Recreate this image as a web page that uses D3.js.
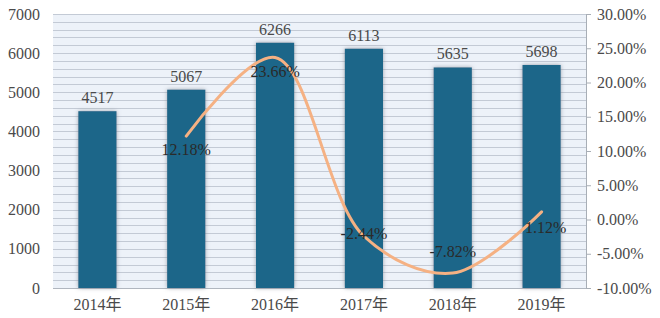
<!DOCTYPE html>
<html>
<head>
<meta charset="utf-8">
<script src="https://cdn.jsdelivr.net/npm/d3@7"></script>
<style>
  body { margin: 0; background: #fff; }
  svg { display: block; }
</style>
</head>
<body>
<svg id="svg" width="660" height="318"></svg>
<script>
// data
const years = ["2014年", "2015年", "2016年", "2017年", "2018年", "2019年"];
const output = [4517, 5067, 6266, 6113, 5635, 5698];
const growthYears = ["2015年", "2016年", "2017年", "2018年", "2019年"];
const growth = [12.18, 23.66, -2.44, -7.82, 1.12];
const leftTicks = [0, 1000, 2000, 3000, 4000, 5000, 6000, 7000];
const rightTicks = [-10, -5, 0, 5, 10, 15, 20, 25, 30];

// label nudges for the growth labels (px, relative to the point)
const growthLabelDy = [13, 14, -3, -22, 16];

const font = "'Liberation Serif', 'Noto Sans CJK SC', serif";
const fontSize = 16;
const textColor = "#4a4a4a";
const barColor = "#1a6689";
const lineColor = "#f5b183";

const plotLeft = 53, plotRight = 586, plotTop = 14, plotBottom = 288;

const svg = d3.select("#svg");

const x = d3.scaleBand().domain(years).range([plotLeft, plotRight]).paddingInner(0.57).paddingOuter(0.285);
const y = d3.scaleLinear().domain([0, 7000]).range([plotBottom, plotTop]);
const y2 = d3.scaleLinear().domain([-10, 30]).range([plotBottom, plotTop]);

// shadow for bars
const defs = svg.append("defs");
const f = defs.append("filter").attr("id", "shadow").attr("x", "-30%").attr("y", "-10%")
    .attr("width", "160%").attr("height", "120%");
f.append("feDropShadow").attr("dx", 0).attr("dy", 0).attr("stdDeviation", 2)
    .attr("flood-color", "#7d8590").attr("flood-opacity", 0.7);

// plot background
svg.append("rect")
    .attr("x", plotLeft).attr("y", plotTop)
    .attr("width", plotRight - plotLeft).attr("height", plotBottom - plotTop)
    .attr("fill", "#edf2f9");

// dense horizontal grid, every 200
svg.append("g")
    .selectAll("line")
    .data(d3.range(200, 7001, 200))
    .join("line")
    .attr("x1", plotLeft).attr("x2", plotRight)
    .attr("y1", d => Math.round(y(d)) + 0.5)
    .attr("y2", d => Math.round(y(d)) + 0.5)
    .attr("stroke", "#c3cad5")
    .attr("stroke-width", 1);

// bottom axis line
svg.append("line")
    .attr("x1", plotLeft).attr("x2", plotRight)
    .attr("y1", plotBottom + 0.5).attr("y2", plotBottom + 0.5)
    .attr("stroke", "#b0b6bf");

// bars
svg.append("g")
    .selectAll("rect")
    .data(years)
    .join("rect")
    .attr("x", d => x(d))
    .attr("y", (d, i) => y(output[i]))
    .attr("width", x.bandwidth())
    .attr("height", (d, i) => plotBottom - y(output[i]))
    .attr("fill", barColor)
    .attr("filter", "url(#shadow)");

// bar value labels
svg.append("g")
    .selectAll("text")
    .data(years)
    .join("text")
    .attr("x", d => x(d) + x.bandwidth() / 2)
    .attr("y", (d, i) => y(output[i]) - 8)
    .attr("text-anchor", "middle")
    .attr("font-family", font)
    .attr("font-size", fontSize)
    .attr("fill", textColor)
    .text((d, i) => output[i]);

// left axis
const yAxis = svg.append("g")
    .attr("transform", `translate(${plotLeft},0)`)
    .call(d3.axisLeft(y).tickValues(leftTicks).tickSize(0).tickPadding(13).tickFormat(d3.format("d")));
yAxis.select(".domain").remove();
yAxis.selectAll("text")
    .attr("font-family", font).attr("font-size", fontSize).attr("fill", textColor);

// right axis
const y2Axis = svg.append("g")
    .attr("transform", `translate(${plotRight},0)`)
    .call(d3.axisRight(y2).tickValues(rightTicks).tickSize(5).tickPadding(6)
        .tickFormat(d => d.toFixed(2) + "%"));
y2Axis.select(".domain").attr("stroke", "#a8aeb6");
y2Axis.selectAll(".tick line").attr("stroke", "#a8aeb6");
y2Axis.selectAll("text")
    .attr("font-family", font).attr("font-size", fontSize).attr("fill", textColor);

// category labels
const xAxis = svg.append("g")
    .attr("transform", `translate(0,${plotBottom})`)
    .call(d3.axisBottom(x).tickSize(0).tickPadding(11));
xAxis.select(".domain").remove();
xAxis.selectAll("text")
    .attr("font-family", font).attr("font-size", fontSize).attr("fill", textColor);

// growth line
const cx = d => x(d) + x.bandwidth() / 2;
const line = d3.line()
    .x(d => cx(d))
    .y((d, i) => y2(growth[i]))
    .curve(d3.curveCatmullRom.alpha(0.5));

svg.append("path")
    .datum(growthYears)
    .attr("d", line)
    .attr("fill", "none")
    .attr("stroke", lineColor)
    .attr("stroke-width", 3)
    .attr("stroke-linecap", "round");

// growth labels
svg.append("g")
    .selectAll("text")
    .data(growthYears)
    .join("text")
    .attr("x", (d, i) => cx(d) + (i === 4 ? 4 : 0))
    .attr("y", (d, i) => y2(growth[i]) + growthLabelDy[i])
    .attr("dy", "0.35em")
    .attr("text-anchor", "middle")
    .attr("font-family", font)
    .attr("font-size", fontSize)
    .attr("fill", "#2a2a2a")
    .text((d, i) => growth[i].toFixed(2) + "%");
</script>
</body>
</html>
